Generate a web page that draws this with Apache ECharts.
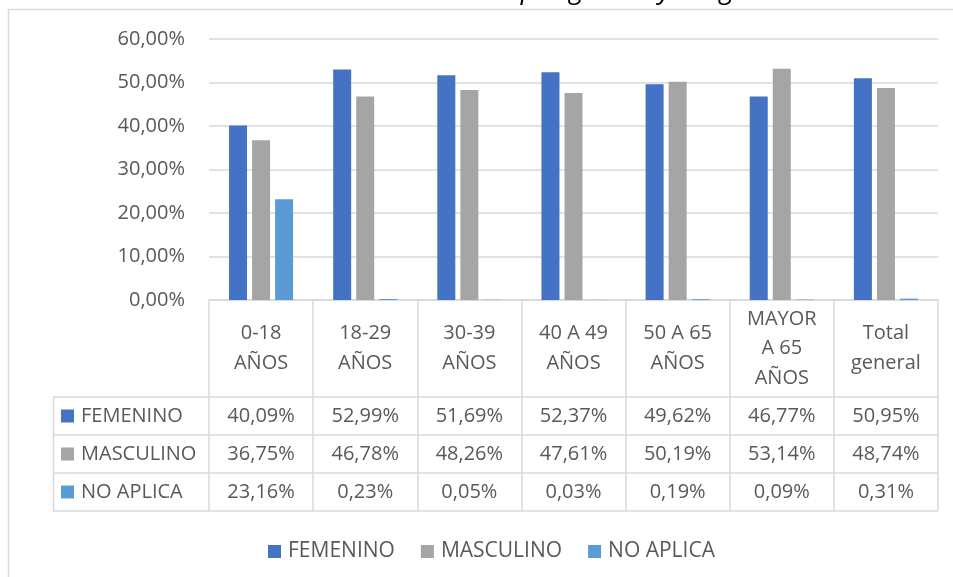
<!DOCTYPE html>
<html>
<head>
<meta charset="utf-8">
<script src="https://cdn.jsdelivr.net/npm/echarts@6/dist/echarts.min.js"></script>
<style>
  html, body { margin: 0; padding: 0; background: #fff; }
  #chart { width: 953px; height: 577px; }
</style>
</head>
<body>
<div id="chart"></div>
<script>
const categorias = ['0-18\nAÑOS', '18-29\nAÑOS', '30-39\nAÑOS', '40 A 49\nAÑOS', '50 A 65\nAÑOS', 'MAYOR\nA 65\nAÑOS', 'Total\ngeneral'];
const femenino = [40.09, 52.99, 51.69, 52.37, 49.62, 46.77, 50.95];
const masculino = [36.75, 46.78, 48.26, 47.61, 50.19, 53.14, 48.74];
const noAplica = [23.16, 0.23, 0.05, 0.03, 0.19, 0.09, 0.31];
const nombres = ['FEMENINO', 'MASCULINO', 'NO APLICA'];
const colores = ['#4472C4', '#A5A5A5', '#5B9BD5'];
const titulo = 'Distribución por género y rango de edad';

const FONT = 'Open Sans';
const GRIS = '#595959';
const LINEA = '#d9d9d9';

// formato con coma decimal
const pct = v => v.toFixed(2).replace('.', ',') + '%';

const gridTop = 39, gridBottom = 300;
const filas = [416, 454, 492]; // centro de cada fila de la tabla
const series = [femenino, masculino, noAplica];

const chart = echarts.init(document.getElementById('chart'));

// ejes extra que pintan los valores de la tabla, uno por fila
const ejesFila = series.map((s, i) => ({
  type: 'category',
  data: s.map(pct),
  position: 'bottom',
  axisLine: { show: false },
  axisTick: { show: false },
  axisLabel: {
    interval: 0,
    margin: filas[i] - gridBottom,
    verticalAlign: 'middle',
    color: GRIS,
    fontFamily: FONT,
    fontSize: 20
  }
}));

const graficos = [
  // borde del área del gráfico
  { type: 'line', shape: { x1: 8.5, y1: 9, x2: 8.5, y2: 577 }, style: { stroke: LINEA, lineWidth: 1.5 } },
  { type: 'line', shape: { x1: 8, y1: 9.5, x2: 953, y2: 9.5 }, style: { stroke: LINEA, lineWidth: 1.5 } },
  // título (cortado arriba)
  { type: 'text', x: 370, y: 4, style: { text: titulo, fill: '#000', font: 'italic 27px "Open Sans"', textVerticalAlign: 'bottom' } },
  // líneas de la tabla
  { type: 'line', shape: { x1: 53.5, y1: 397, x2: 53.5, y2: 511 }, style: { stroke: LINEA, lineWidth: 1.5 } }
];
[397, 435, 473, 511].forEach(y => {
  graficos.push({ type: 'line', shape: { x1: 53, y1: y, x2: 938, y2: y }, style: { stroke: LINEA, lineWidth: 1.5 } });
});
nombres.forEach((n, i) => {
  graficos.push({ type: 'rect', shape: { x: 61, y: filas[i] - 6.5, width: 13, height: 13 }, style: { fill: colores[i] } });
  graficos.push({ type: 'text', x: 81, y: filas[i], style: { text: n, fill: GRIS, font: '20px "Open Sans"', textVerticalAlign: 'middle' } });
});

chart.setOption({
  textStyle: { fontFamily: FONT },
  animation: false,
  grid: { left: 209, right: 15, top: gridTop, bottom: 577 - gridBottom },
  legend: {
    data: nombres,
    left: 263,
    top: 536,
    icon: 'rect',
    itemWidth: 13,
    itemHeight: 13,
    itemGap: 26,
    textStyle: { color: GRIS, fontSize: 21, fontFamily: FONT, padding: [0, 0, 0, 2] }
  },
  xAxis: [{
    type: 'category',
    data: categorias,
    axisLine: { lineStyle: { color: LINEA, width: 1.5 } },
    axisTick: { show: true, interval: 0, length: 211, lineStyle: { color: LINEA, width: 1.5 } },
    axisLabel: {
      interval: 0,
      margin: 48.5,
      verticalAlign: 'middle',
      lineHeight: 29.5,
      color: GRIS,
      fontFamily: FONT,
      fontSize: 20
    }
  }].concat(ejesFila),
  yAxis: {
    type: 'value',
    min: 0,
    max: 60,
    interval: 10,
    axisLine: { show: false },
    axisTick: { show: false },
    splitLine: { lineStyle: { color: LINEA, width: 1.5 } },
    axisLabel: { formatter: pct, color: GRIS, fontSize: 20, fontFamily: FONT, margin: 24 }
  },
  series: series.map((s, i) => ({
    name: nombres[i],
    type: 'bar',
    data: s,
    barWidth: 18,
    barGap: '28%',
    itemStyle: { color: colores[i] }
  })),
  graphic: graficos
});
</script>
</body>
</html>
